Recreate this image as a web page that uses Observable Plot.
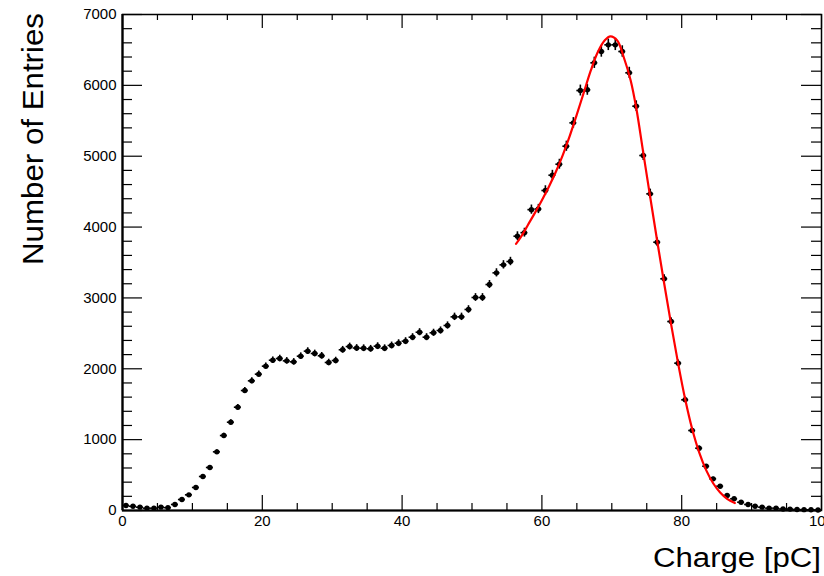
<!DOCTYPE html>
<html>
<head>
<meta charset="utf-8">
<script src="https://cdn.jsdelivr.net/npm/d3@7"></script>
<script src="https://cdn.jsdelivr.net/npm/@observablehq/plot@0.6"></script>
<style>
  html, body { margin: 0; padding: 0; background: #fff; }
  #chart { width: 824px; height: 576px; overflow: hidden; }
</style>
</head>
<body>
<div id="chart"></div>
<script>
// Histogram bin centers (pC), bin width 1 pC
const binCenters = [
  0.5,1.5,2.5,3.5,4.5,5.5,6.5,7.5,8.5,9.5,
  10.5,11.5,12.5,13.5,14.5,15.5,16.5,17.5,18.5,19.5,
  20.5,21.5,22.5,23.5,24.5,25.5,26.5,27.5,28.5,29.5,
  30.5,31.5,32.5,33.5,34.5,35.5,36.5,37.5,38.5,39.5,
  40.5,41.5,42.5,43.5,44.5,45.5,46.5,47.5,48.5,49.5,
  50.5,51.5,52.5,53.5,54.5,55.5,56.5,57.5,58.5,59.5,
  60.5,61.5,62.5,63.5,64.5,65.5,66.5,67.5,68.5,69.5,
  70.5,71.5,72.5,73.5,74.5,75.5,76.5,77.5,78.5,79.5,
  80.5,81.5,82.5,83.5,84.5,85.5,86.5,87.5,88.5,89.5,
  90.5,91.5,92.5,93.5,94.5,95.5,96.5,97.5,98.5,99.5
];
// Number of entries per bin
const counts = [
  70,60,47,33,33,47,40,85,155,221,
  325,480,607,828,1058,1246,1458,1693,1830,1924,
  2037,2121,2145,2112,2098,2178,2249,2216,2183,2089,
  2117,2268,2314,2293,2290,2282,2319,2290,2329,2361,
  2390,2446,2516,2446,2508,2540,2611,2733,2733,2837,
  3006,3006,3189,3354,3467,3514,3871,3921,4246,4255,
  4516,4732,4887,5141,5471,5927,5937,6318,6478,6572,
  6572,6478,6177,5706,5010,4469,3786,3270,2667,2079,
  1562,1129,879,625,447,343,212,165,117,85,
  61,47,33,33,22,20,15,12,10,8
];
const binWidth = 1;

// Fit curve
const fitX = [56.3,57,58,59,60,61,62,63,64,65,66,67,68,69,69.8,70.8,71.7,72.7,73.5,74.5,75.5,76.5,77.5,78.5,79.5,80.5,81.5,82.5,83.5,84.5,85.5,86.5,87.6];
const fitY = [3764,3860,4030,4200,4380,4570,4780,5020,5290,5590,5900,6210,6470,6635,6690,6630,6400,6070,5680,5050,4420,3800,3200,2620,2070,1570,1150,820,570,385,255,165,105];

// Axis ticks
const xMajor = [0,20,40,60,80,100];
const xMinor = [5,10,15,25,30,35,45,50,55,65,70,75,85,90,95];
const yMajor = [0,1000,2000,3000,4000,5000,6000,7000];
const yMinor = [200,400,600,800,1200,1400,1600,1800,2200,2400,2600,2800,3200,3400,3600,3800,4200,4400,4600,4800,5200,5400,5600,5800,6200,6400,6600,6800];

const hist = binCenters.map((c, i) => ({x: c, y: counts[i], err: Math.sqrt(counts[i])}));
const fit = fitX.map((x, i) => ({x, y: fitY[i]}));

const W = 824, H = 576;
const mL = 122, mR = 3, mT = 14, mB = 66;
const pxPerX = (W - mL - mR) / 100;   // pixels per pC
const pxPerY = (H - mT - mB) / 7000;  // pixels per entry

// tick lengths in px converted into data units
const yTickMajor = 20 / pxPerX, yTickMinor = 10 / pxPerX;
const xTickMajorB = 15 / pxPerY, xTickMinorB = 7 / pxPerY;
const xTickMajorT = 14 / pxPerY, xTickMinorT = 6 / pxPerY;

const font = "'Liberation Sans', Arial, Helvetica, sans-serif";

const chart = Plot.plot({
  width: W, height: H,
  marginLeft: mL, marginRight: mR, marginTop: mT, marginBottom: mB,
  style: {fontFamily: font, background: "#fff", color: "#000"},
  x: {domain: [0, 100]},
  y: {domain: [0, 7000]},
  marks: [
    // ticks: left & right (y), bottom & top (x), drawn inward
    Plot.ruleY(yMajor, {y: d => d, x1: 0, x2: yTickMajor, stroke: "#000", strokeWidth: 1.2}),
    Plot.ruleY(yMinor, {y: d => d, x1: 0, x2: yTickMinor, stroke: "#000", strokeWidth: 1.2}),
    Plot.ruleY(yMajor, {y: d => d, x1: 100 - yTickMajor, x2: 100, stroke: "#000", strokeWidth: 1.2}),
    Plot.ruleY(yMinor, {y: d => d, x1: 100 - yTickMinor, x2: 100, stroke: "#000", strokeWidth: 1.2}),
    Plot.ruleX(xMajor, {x: d => d, y1: 0, y2: xTickMajorB, stroke: "#000", strokeWidth: 1.2}),
    Plot.ruleX(xMinor, {x: d => d, y1: 0, y2: xTickMinorB, stroke: "#000", strokeWidth: 1.2}),
    Plot.ruleX(xMajor, {x: d => d, y1: 7000 - xTickMajorT, y2: 7000, stroke: "#000", strokeWidth: 1.2}),
    Plot.ruleX(xMinor, {x: d => d, y1: 7000 - xTickMinorT, y2: 7000, stroke: "#000", strokeWidth: 1.2}),
    Plot.frame({stroke: "#000", strokeWidth: 1.5}),
    Plot.ruleX([0], {stroke: "#000", strokeWidth: 2.2}),
    Plot.ruleY([0], {stroke: "#000", strokeWidth: 2}),
    Plot.axisY(yMajor, {anchor: "left", tickSize: 0, tickPadding: 6, fontSize: 15, tickFormat: d => String(d), label: null}),
    Plot.axisX(xMajor, {anchor: "bottom", tickSize: 0, tickPadding: 5, fontSize: 15, tickFormat: d => String(d), label: null}),
    // error bars
    Plot.ruleY(hist, {y: "y", x1: d => d.x - binWidth / 2, x2: d => d.x + binWidth / 2, stroke: "#000", strokeWidth: 1.6}),
    Plot.ruleX(hist, {x: "x", y1: d => d.y - d.err, y2: d => d.y + d.err, stroke: "#000", strokeWidth: 1.6}),
    Plot.dot(hist, {x: "x", y: "y", r: 2.7, fill: "#000", stroke: null}),
    // fit
    Plot.line(fit, {x: "x", y: "y", stroke: "#ff0000", strokeWidth: 2.2, curve: "catmull-rom"})
  ]
});

const svg = d3.select(chart);
svg.append("text")
  .attr("x", 821).attr("y", 567)
  .attr("text-anchor", "end")
  .attr("font-family", font).attr("font-size", 27)
  .attr("textLength", 168).attr("lengthAdjust", "spacingAndGlyphs")
  .attr("fill", "#000")
  .text("Charge [pC]");
svg.append("text")
  .attr("transform", "translate(43,13) rotate(-90)")
  .attr("text-anchor", "end")
  .attr("font-family", font).attr("font-size", 30)
  .attr("textLength", 252).attr("lengthAdjust", "spacingAndGlyphs")
  .attr("fill", "#000")
  .text("Number of Entries");

document.getElementById("chart").appendChild(chart);
</script>
</body>
</html>
